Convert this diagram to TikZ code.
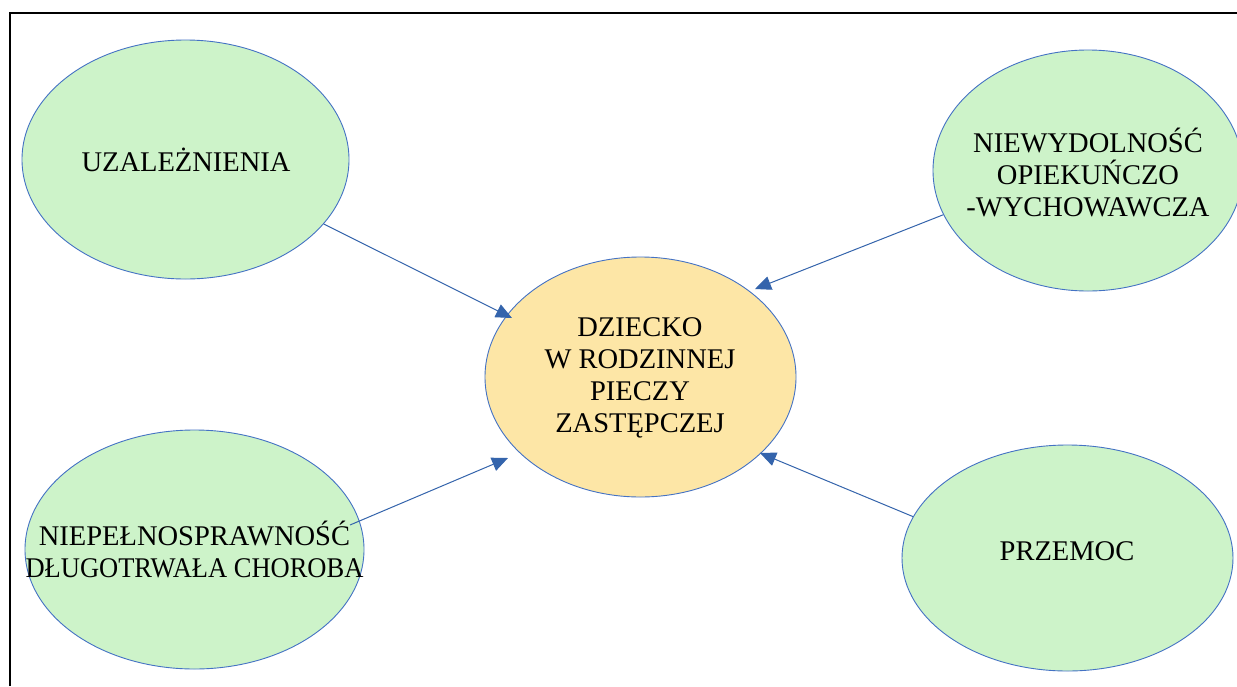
\documentclass[tikz,border=0pt]{standalone}
\usepackage{fontspec}
\setmainfont{Liberation Serif}
\usetikzlibrary{shapes.geometric,arrows.meta,calc}
\definecolor{edgeblue}{RGB}{68,114,196}
\definecolor{arrowblue}{RGB}{52,100,172}
\definecolor{leafgreen}{RGB}{205,243,201}
\definecolor{coreyellow}{RGB}{253,230,166}
\tikzset{
  bubble/.style={ellipse, draw=edgeblue, line width=0.9pt, inner sep=0pt},
  leaf/.style={bubble, fill=leafgreen},
  core/.style={bubble, fill=coreyellow},
  label/.style={align=center, inner sep=0pt, font=\fontsize{28.5}{32}\selectfont},
  link/.style={draw=arrowblue, line width=1pt, -{Triangle[length=16pt,width=14pt]}}
}
\begin{document}
\begin{tikzpicture}[x=1pt,y=-1pt]
\useasboundingbox (0,0) rectangle (1237,686);
\fill[white] (0,0) rectangle (1237,686);
\draw[black, line width=2pt] (10.3,686) -- (10.3,12.8) -- (1237,12.8);

\node[leaf, minimum width=327pt, minimum height=239pt] (uz) at (185.5,159.5) {};
\node[label] (uzt) at (186,160) {UZALEŻNIENIA};
\node[leaf, minimum width=310pt, minimum height=241pt] (nw) at (1088,170.5) {};
\node[label] (nwt) at (1088,172) {NIEWYDOLNOŚĆ\\OPIEKUŃCZO\\-WYCHOWAWCZA};
\node[core, minimum width=311pt, minimum height=240pt] (c) at (640.5,377) {};
\node[label] (ct) at (640,378) {DZIECKO\\W RODZINNEJ\\PIECZY\\ZASTĘPCZEJ};
\node[leaf, minimum width=339pt, minimum height=239pt] (np) at (194.5,549.5) {};
\node[label] (npt) at (194.5,549) {NIEPEŁNOSPRAWNOŚĆ\\\scalebox{0.93}[1]{DŁUGOTRWAŁA CHOROBA}};
\node[leaf, minimum width=331pt, minimum height=226pt] (pr) at (1067.5,558) {};
\node[label] (prt) at (1067,551) {PRZEMOC};

\coordinate (tipuz) at (512,318);
\coordinate (tipnw) at (755,289);
\coordinate (npstart) at (350,525);
\coordinate (tipnp) at (508,458);
\coordinate (tippr) at (760,453);

\draw[link] (uz.-25.8) -- (tipuz);
\draw[link] (nw.-163.3) -- (tipnw);
\draw[link] (npstart) -- (tipnp);
\draw[link] (pr.165.7) -- (tippr);
\end{tikzpicture}
\end{document}
